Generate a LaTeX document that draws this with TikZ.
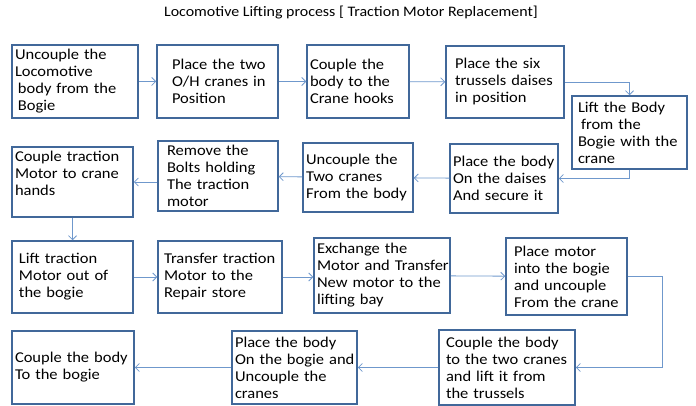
\documentclass[tikz,border=0pt]{standalone}
\usepackage{fontspec}
\setmainfont{Carlito}[FakeStretch=1.10]
\usetikzlibrary{arrows.meta}
\definecolor{boxline}{HTML}{41689A}
\definecolor{flowline}{HTML}{6F98CC}
\hyphenpenalty=10000

\tikzset{
  procbox/.style 2 args={draw=boxline, line width=1.5pt, align=left,
    text width=#1, minimum height=#2, inner xsep=3pt, inner ysep=0pt,
    font=\fontsize{15}{17}\selectfont},
  flow/.style={draw=flowline, line width=0.8pt,
    -{Straight Barb[length=4pt,width=8pt]}}
}

\begin{document}
\begin{tikzpicture}[x=1pt,y=1pt]
\useasboundingbox (0,0) rectangle (696,-406);
\node[font=\fontsize{14.5}{17}\selectfont] (title) at (351,-13)
  {Locomotive Lifting process [ Traction Motor Replacement]};

\node[procbox={120pt}{73pt}] (b1) at (75,-81.5)
  {Uncouple the\\Locomotive\\\hspace*{3pt}body~from~the\\\hspace*{3pt}Bogie};
\node[procbox={115pt}{73pt}] (b2) at (217.5,-81.5)
  {\hspace*{12pt}Place~the~two\\\hspace*{12pt}O/H~cranes~in\\\hspace*{12pt}Position};
\node[procbox={96pt}{73pt}] (b3) at (358,-81.5)
  {Couple the\\body to the\\Crane hooks};
\node[procbox={112pt}{72pt}] (b4) at (505,-82)
  {\hspace*{6pt}Place~the~six\\\hspace*{6pt}trussels~daises\\\hspace*{6pt}in~position};
\node[procbox={109pt}{73pt}] (b5) at (629.5,-132.5)
  {\hspace*{3pt}Lift~the~Body\\\hspace*{6pt}from~the\\\hspace*{3pt}Bogie~with~the\\\hspace*{3pt}crane};

\node[procbox={102pt}{69pt}] (b6) at (504,-178.5)
  {Place~the~body\\On~the~daises\\And~secure~it};
\node[procbox={104pt}{69pt}] (b7) at (358,-177.5)
  {Uncouple~the\\Two~cranes\\From~the~body};
\node[procbox={114pt}{70pt}] (b8) at (218,-176)
  {\hspace*{6pt}Remove~the\\\hspace*{6pt}Bolts~holding\\\hspace*{6pt}The~traction\\\hspace*{6pt}motor};
\node[procbox={115pt}{70pt}] (b9) at (72.5,-182)
  {Couple~traction\\Motor~to~crane\\hands\\\mbox{}};

\node[procbox={115pt}{72pt}] (b10) at (72.5,-277)
  {\hspace*{4pt}Lift~traction\\\hspace*{4pt}Motor~out~of\\\hspace*{4pt}the~bogie};
\node[procbox={118pt}{72pt}] (b11) at (220,-277)
  {\hspace*{3pt}Transfer~traction\\\hspace*{3pt}Motor~to~the\\\hspace*{3pt}Repair~store};
\node[procbox={130pt}{75pt}] (b12) at (382,-275.5)
  {Exchange~the\\Motor~and~Transfer\\New~motor~to~the\\lifting~bay};
\node[procbox={115pt}{77pt}] (b13) at (566.5,-276.5)
  {\hspace*{5pt}Place~motor\\\hspace*{5pt}into~the~bogie\\\hspace*{5pt}and~uncouple\\\hspace*{5pt}From~the~crane};

\node[procbox={130pt}{75pt}] (b14) at (507,-367.5)
  {\hspace*{4pt}Couple~the~body\\\hspace*{4pt}to~the~two~cranes\\\hspace*{4pt}and~lift~it~from\\\hspace*{4pt}the~trussels};
\node[procbox={119pt}{73pt}] (b15) at (294.5,-367.5)
  {Place~the~body\\On~the~bogie~and\\Uncouple~the\\cranes};
\node[procbox={116pt}{73pt}] (b16) at (73,-367.5)
  {Couple~the~body\\To~the~bogie};

\draw[flow] (b1) -- (b2);
\draw[flow] (b2) -- (b3);
\draw[flow] (b3) -- (b4);
\draw[flow] (b4.east) -| (b5.north);
\draw[flow] (b5.south) |- (b6.east);
\draw[flow] (b6) -- (b7);
\draw[flow] (b7) -- (b8);
\draw[flow] (b8.west |- b9) -- (b9.east);
\draw[flow] (b9) -- (b10);
\draw[flow] (b10.east |- b11) -- (b11.west);
\draw[flow] (b11.east) -- (b11.east -| b12.west);
\draw[flow] (b12) -- (b13);
\draw[flow] (b13.east) -- ++(35,0) |- (b14.east);
\draw[flow] (b14) -- (b15);
\draw[flow] (b15) -- (b16);
\end{tikzpicture}
\end{document}
